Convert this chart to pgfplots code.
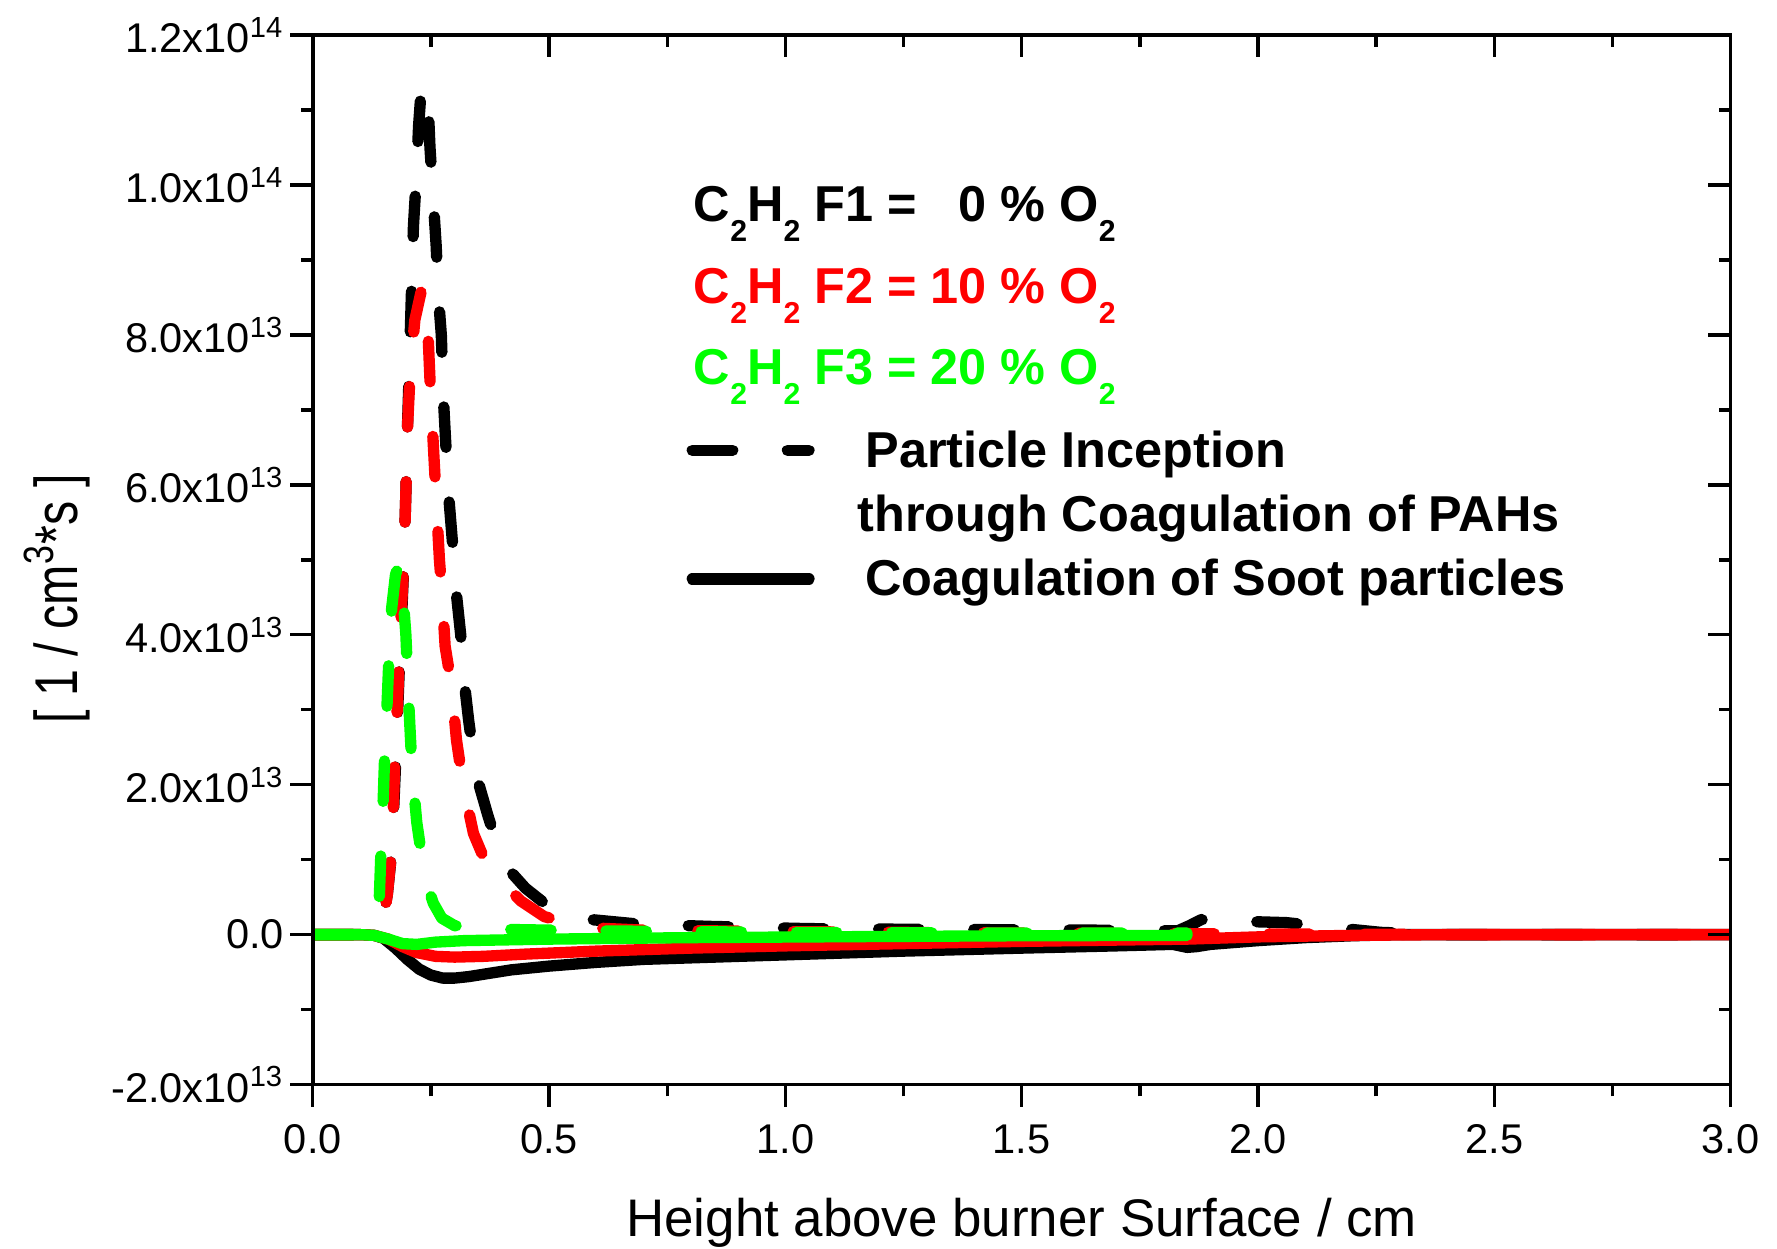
\documentclass[border=0pt]{standalone}
\usepackage{fontspec}
\setmainfont{Liberation Sans}
\newfontfamily\narrowfont{Liberation Sans}[FakeStretch=0.8]
\usepackage{pgfplots}
\pgfplotsset{compat=1.18}
\usetikzlibrary{calc}

\definecolor{fone}{RGB}{0,0,0}
\definecolor{ftwo}{RGB}{255,0,0}
\definecolor{fthree}{RGB}{0,255,0}

% lowered subscript as in the Origin legend
\newcommand{\sub}[1]{\raisebox{-5.3pt}{\fontsize{8}{8}\selectfont #1}}

\pgfplotsset{
  curve/.style={line width=3pt, line join=round, line cap=round},
  dashcurve/.style={curve, dash pattern=on 10.7pt off 14.5pt},
  frame/.style={
    scale only axis, width=375.3pt, height=277.8pt,
    xmin=0, xmax=3, ymin=-2e13, ymax=1.2e14,
    axis line style={line width=1pt},
    tick style={line width=0.9pt, black},
    major tick length=5.9pt, minor tick length=3.1pt,
    xtick={0,0.5,1,1.5,2,2.5,3},
    ytick={-2e13,0,2e13,4e13,6e13,8e13,1e14,1.2e14},
    minor x tick num=1, minor y tick num=1,
    scaled y ticks=false, scaled x ticks=false,
  },
}

\begin{document}
\begin{tikzpicture}
\begin{axis}[
  frame, name=ax,
  tick align=outside,
  xtick pos=left, ytick pos=left,
  xticklabels={0.0,0.5,1.0,1.5,2.0,2.5,3.0},
  yticklabels={-2.0x10\textsuperscript{13},0.0,2.0x10\textsuperscript{13},4.0x10\textsuperscript{13},6.0x10\textsuperscript{13},8.0x10\textsuperscript{13},1.0x10\textsuperscript{14},1.2x10\textsuperscript{14}},
  tick label style={font=\fontsize{11}{13}\selectfont},
  xticklabel style={yshift=-1.2pt},
  yticklabel style={inner xsep=1.5pt},
  xlabel={Height above burner Surface / cm},
  xlabel style={at={(rel axis cs:0.5,-0.1447)}, anchor=base, font=\fontsize{14}{16}\selectfont},
  ylabel={\narrowfont [ 1 / cm\textsuperscript{3}*s ]},
  ylabel style={at={(rel axis cs:-0.1663,0.4627)}, anchor=base, font=\fontsize{16}{18}\selectfont},
]
% F1, particle inception
\addplot[fone, dashcurve] coordinates {
 (0,0) (0.05,0) (0.10,0) (0.13,0.02e13) (0.14,0.1e13) (0.15,0.25e13) (0.158,0.55e13)
 (0.167,1.1e13) (0.172,1.8e13) (0.176,2.4e13) (0.180,3.05e13) (0.184,3.7e13) (0.189,4.4e13)
 (0.193,5.0e13) (0.197,5.9e13) (0.200,6.7e13) (0.204,7.5e13) (0.208,8.4e13) (0.213,9.45e13)
 (0.219,10.1e13) (0.224,10.8e13) (0.230,11.33e13) (0.238,11.3e13) (0.244,11.1e13) (0.248,10.5e13)
 (0.255,9.8e13) (0.261,9.2e13) (0.266,8.5e13) (0.272,8.0e13) (0.276,7.2e13) (0.281,6.6e13)
 (0.287,5.9e13) (0.296,5.2e13) (0.303,4.6e13) (0.313,4.0e13) (0.320,3.4e13) (0.330,2.85e13)
 (0.345,2.15e13) (0.370,1.6e13) (0.390,1.2e13) (0.410,0.9e13) (0.450,0.62e13) (0.490,0.42e13)
 (0.540,0.27e13) (0.590,0.2e13) (0.690,0.14e13) (0.840,0.11e13) (1.05,0.08e13) (1.30,0.07e13)
 (1.65,0.06e13) (1.83,0.05e13) (1.855,0.12e13) (1.88,0.2e13) (1.95,0.18e13) (2.06,0.16e13)
 (2.15,0.1e13) (2.26,0.03e13) (2.40,0) (3.0,0)
};
% F1, coagulation of soot
\addplot[fone, curve] coordinates {
 (0,0) (0.10,0) (0.13,-0.01e13) (0.15,-0.05e13) (0.175,-0.18e13) (0.2,-0.33e13) (0.225,-0.46e13)
 (0.25,-0.54e13) (0.275,-0.58e13) (0.3,-0.58e13) (0.33,-0.56e13) (0.37,-0.52e13) (0.42,-0.47e13)
 (0.5,-0.42e13) (0.6,-0.37e13) (0.7,-0.33e13) (0.85,-0.3e13) (1.0,-0.27e13) (1.25,-0.22e13)
 (1.5,-0.18e13) (1.7,-0.15e13) (1.82,-0.13e13) (1.85,-0.17e13) (1.87,-0.16e13) (1.9,-0.13e13)
 (2.0,-0.08e13) (2.1,-0.04e13) (2.2,-0.015e13) (2.3,0) (3.0,0)
};
% F2, particle inception
\addplot[ftwo, dashcurve] coordinates {
 (0,0) (0.10,0) (0.13,0.02e13) (0.145,0.15e13) (0.152,0.3e13) (0.158,0.55e13) (0.165,1.0e13)
 (0.170,1.6e13) (0.174,2.4e13) (0.179,3.05e13) (0.183,3.7e13) (0.188,4.4e13) (0.193,5.0e13)
 (0.197,5.9e13) (0.200,6.7e13) (0.206,7.5e13) (0.216,8.2e13) (0.23,8.6e13) (0.238,8.5e13)
 (0.244,8.0e13) (0.248,7.4e13) (0.252,6.9e13) (0.257,6.3e13) (0.262,5.7e13) (0.268,5.0e13)
 (0.274,4.5e13) (0.28,3.85e13) (0.294,3.3e13) (0.304,2.6e13) (0.318,2.0e13) (0.34,1.35e13)
 (0.36,1.05e13) (0.386,0.8e13) (0.44,0.45e13) (0.49,0.24e13) (0.52,0.19e13) (0.59,0.09e13)
 (0.7,0.06e13) (1.0,0.04e13) (1.5,0.02e13) (2.0,0.01e13) (2.5,0) (3.0,0)
};
% F2, coagulation of soot
\addplot[ftwo, curve] coordinates {
 (0,0) (0.10,0) (0.13,-0.01e13) (0.16,-0.06e13) (0.19,-0.16e13) (0.22,-0.24e13) (0.26,-0.29e13)
 (0.3,-0.3e13) (0.36,-0.29e13) (0.45,-0.26e13) (0.6,-0.22e13) (0.8,-0.18e13) (1.0,-0.15e13)
 (1.25,-0.12e13) (1.5,-0.09e13) (1.85,-0.06e13) (2.0,-0.03e13) (2.2,-0.01e13) (2.4,0) (3.0,0)
};
% F3, particle inception
\addplot[fthree, dashcurve] coordinates {
 (0,0) (0.10,0) (0.125,0.05e13) (0.135,0.2e13) (0.141,0.53e13) (0.144,1.07e13) (0.149,1.8e13)
 (0.152,2.37e13) (0.157,3.05e13) (0.161,3.67e13) (0.167,4.36e13) (0.175,4.8e13) (0.182,4.93e13)
 (0.19,4.6e13) (0.197,4.0e13) (0.203,3.1e13) (0.21,2.2e13) (0.22,1.5e13) (0.237,0.76e13)
 (0.255,0.42e13) (0.273,0.22e13) (0.3,0.12e13) (0.4,0.07e13) (0.6,0.05e13) (1.0,0.03e13)
 (1.5,0.02e13) (1.85,0.02e13)
};
% F3, coagulation of soot
\addplot[fthree, curve] coordinates {
 (0,0) (0.10,0) (0.13,-0.01e13) (0.16,-0.06e13) (0.19,-0.12e13) (0.22,-0.13e13) (0.26,-0.1e13)
 (0.32,-0.08e13) (0.5,-0.06e13) (0.8,-0.04e13) (1.2,-0.025e13) (1.5,-0.015e13) (1.85,-0.01e13)
};

% legend, written as in the original
\begin{scope}[every node/.style={anchor=base west, inner sep=0pt, font=\fontsize{13.35}{15}\selectfont\bfseries}]
\node[text=fone]   at (axis cs:0.805,9.516e13) {C\sub{2}H\sub{2} F1 = \phantom{1}0 \% O\sub{2}};
\node[text=ftwo]   at (axis cs:0.805,8.426e13) {C\sub{2}H\sub{2} F2 = 10 \% O\sub{2}};
\node[text=fthree] at (axis cs:0.805,7.337e13) {C\sub{2}H\sub{2} F3 = 20 \% O\sub{2}};
\node at (axis cs:1.168,6.229e13) {Particle Inception};
\node at (axis cs:1.151,5.375e13) {through Coagulation of PAHs};
\node at (axis cs:1.168,4.521e13) {Coagulation of Soot particles};
\end{scope}
\draw[black, line width=3pt, line cap=round, dash pattern=on 10.7pt off 14.5pt]
  (axis cs:0.803,6.461e13) -- (axis cs:1.050,6.461e13);
\draw[black, line width=3pt, line cap=round]
  (axis cs:0.803,4.745e13) -- (axis cs:1.050,4.745e13);
\end{axis}

% mirrored top and right ticks point inward
\begin{axis}[
  frame,
  tick align=inside,
  xtick pos=right, ytick pos=right,
  xticklabels={}, yticklabels={},
]
\end{axis}

\pgfresetboundingbox
\path ($(ax.south west)+(-82.8pt,-43.5pt)$) rectangle ($(ax.north east)+(12.3pt,9.3pt)$);
\end{tikzpicture}
\end{document}
